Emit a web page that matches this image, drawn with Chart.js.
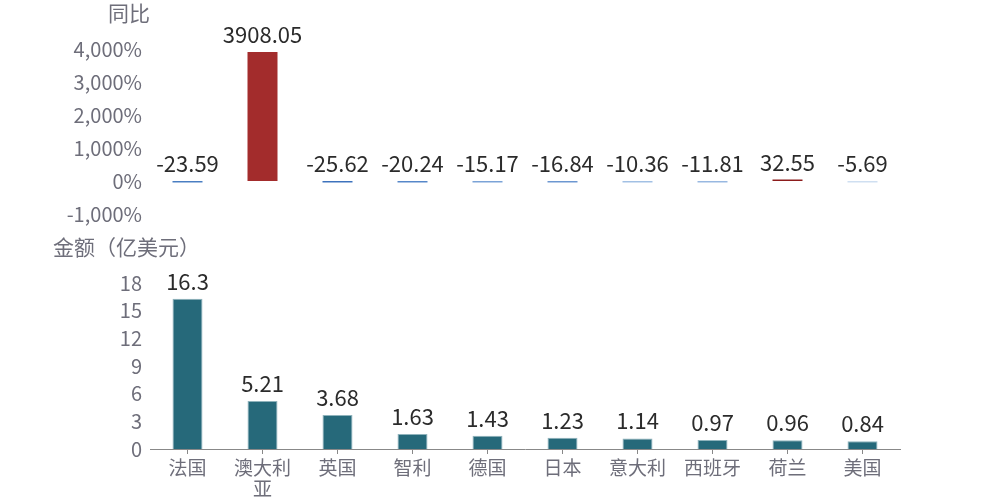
<!DOCTYPE html>
<html>
<head>
<meta charset="utf-8">
<script src="https://cdn.jsdelivr.net/npm/chart.js@4/dist/chart.umd.min.js"></script>
<style>
  html, body { margin: 0; padding: 0; background: #fff; }
  #wrap { position: relative; width: 1000px; height: 500px; }
  #box-yoy { position: absolute; left: 0; top: 0; width: 1000px; height: 240px; }
  #box-amt { position: absolute; left: 0; top: 230px; width: 1000px; height: 270px; }
</style>
</head>
<body>
<div id="wrap">
  <div id="box-yoy"><canvas id="chart-yoy"></canvas></div>
  <div id="box-amt"><canvas id="chart-amt"></canvas></div>
</div>
<script>
  // categories
  const countries = ['法国', ['澳大利', '亚'], '英国', '智利', '德国', '日本', '意大利', '西班牙', '荷兰', '美国'];
  // 同比 (%)
  const yoyValues = [-23.59, 3908.05, -25.62, -20.24, -15.17, -16.84, -10.36, -11.81, 32.55, -5.69];
  // 金额 (亿美元)
  const amountValues = [16.3, 5.21, 3.68, 1.63, 1.43, 1.23, 1.14, 0.97, 0.96, 0.84];

  // colours for the yoy bars (blue for falls, red for rises)
  const yoyColors = ['#4a7ec2', '#a32c2c', '#3d72bd', '#5687c9', '#7ba3d7', '#6c97d1', '#a2c0e4', '#98b8e1', '#8c1c1c', '#cfdff1'];

  const FONT = '"Noto Sans CJK SC", "Noto Sans", sans-serif';
  const GRAY = '#6e6e7a';
  const AXIS_L = 150, AXIS_R = 900;

  Chart.defaults.font.family = FONT;
  Chart.defaults.animation = false;

  // value labels above every bar
  const valueLabels = {
    id: 'valueLabels',
    afterDatasetsDraw(chart) {
      const ctx = chart.ctx;
      const meta = chart.getDatasetMeta(0);
      const data = chart.data.datasets[0].data;
      ctx.save();
      ctx.font = '22px ' + FONT;
      ctx.fillStyle = '#2b2b2b';
      ctx.textAlign = 'center';
      ctx.textBaseline = 'alphabetic';
      meta.data.forEach((bar, i) => {
        const top = Math.min(bar.y, bar.base);
        ctx.fillText(String(data[i]), bar.x, top - 9);
      });
      ctx.restore();
    }
  };

  // axis caption drawn at a fixed spot
  const caption = {
    id: 'caption',
    afterDraw(chart, args, opts) {
      const ctx = chart.ctx;
      ctx.save();
      ctx.font = '21px ' + FONT;
      ctx.fillStyle = GRAY;
      ctx.textAlign = opts.align;
      ctx.textBaseline = 'middle';
      ctx.fillText(opts.text, opts.x, opts.y);
      ctx.restore();
    }
  };

  const fixWidth = (s) => { s.width = AXIS_L; };

  // ====== 同比 ======
  new Chart(document.getElementById('chart-yoy'), {
    type: 'bar',
    data: {
      labels: countries,
      datasets: [{
        data: yoyValues,
        backgroundColor: yoyColors,
        borderWidth: 0,
        minBarLength: 1.5,
        barPercentage: 0.4,
        categoryPercentage: 1
      }]
    },
    options: {
      responsive: true,
      maintainAspectRatio: false,
      layout: { padding: { top: 49, bottom: 26, left: 0, right: 1000 - AXIS_R } },
      plugins: {
        legend: { display: false },
        tooltip: { enabled: false },
        caption: { text: '同比', x: 150, y: 13, align: 'right' }
      },
      scales: {
        x: { display: false, offset: true },
        y: {
          min: -1000, max: 4000,
          afterFit: fixWidth,
          grid: { display: false, drawTicks: false },
          border: { display: false },
          ticks: {
            stepSize: 1000,
            padding: 8,
            color: GRAY,
            font: { size: 20 },
            callback: v => v.toLocaleString('en-US') + '%'
          }
        }
      }
    },
    plugins: [valueLabels, caption]
  });

  // ====== 金额 ======
  new Chart(document.getElementById('chart-amt'), {
    type: 'bar',
    data: {
      labels: countries,
      datasets: [{
        data: amountValues,
        backgroundColor: '#26697a',
        borderColor: '#8fb3bc',
        borderWidth: 1,
        barPercentage: 0.4,
        categoryPercentage: 1
      }]
    },
    options: {
      responsive: true,
      maintainAspectRatio: false,
      layout: { padding: { top: 53, bottom: 0, left: 0, right: 1000 - AXIS_R } },
      plugins: {
        legend: { display: false },
        tooltip: { enabled: false },
        caption: { text: '金额（亿美元）', x: 53, y: 17, align: 'left' }
      },
      scales: {
        x: {
          offset: true,
          afterFit: (s) => { s.height = 51; },
          grid: { display: true, offset: false, drawOnChartArea: false, drawTicks: true, tickLength: 5, color: '#888' },
          border: { display: true, color: '#888' },
          ticks: {
            padding: 3,
            color: GRAY,
            font: { size: 19, lineHeight: 1.1 },
            maxRotation: 0,
            autoSkip: false
          }
        },
        y: {
          min: 0, max: 18,
          afterFit: fixWidth,
          grid: { display: false, drawTicks: false },
          border: { display: false },
          ticks: {
            stepSize: 3,
            padding: 8,
            color: GRAY,
            font: { size: 20 }
          }
        }
      }
    },
    plugins: [valueLabels, caption]
  });
</script>
</body>
</html>
